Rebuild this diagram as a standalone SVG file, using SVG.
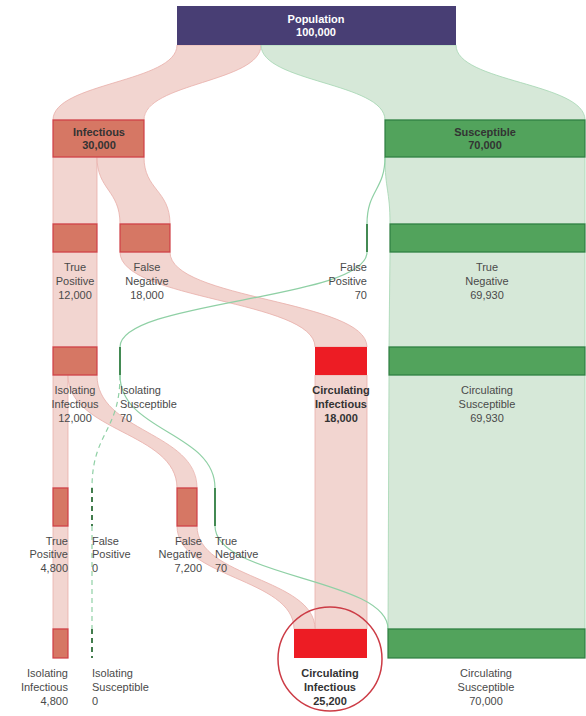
<svg xmlns="http://www.w3.org/2000/svg" width="586" height="716" viewBox="0 0 586 716">
<style>
.fr{fill:#f2d5d0;stroke:#e8aeaa;stroke-width:0.8}
.fg{fill:#d6e8d8;stroke:#a3d6b1;stroke-width:0.8}
.lg{fill:none;stroke:#8fd0a5;stroke-width:1.2}
.lgd{fill:none;stroke:#8fd0a5;stroke-width:1.2;stroke-dasharray:5 4}
.nr{fill:#d67764;stroke:#cf3e45;stroke-width:1.2}
.nb{fill:#ed1c24}
.ng{fill:#52a35c;stroke:#2e7d40;stroke-width:1.2}
.nl{stroke:#2e7d40;stroke-width:1.8;fill:none}
.nld{stroke:#2e6e3a;stroke-width:1.8;fill:none;stroke-dasharray:5 4}
text{font-family:"Liberation Sans",Arial,sans-serif;font-size:11px;fill:#4a4a4a}
.b{font-weight:bold;fill:#333}
.w{font-weight:bold;fill:#fff}
.c{text-anchor:middle}
.e{text-anchor:end}
</style>
<g id="connectors">
<path class="fr" d="M177,45 C177,82.5 53,82.5 53,120 L144,120 C144,82.5 261,82.5 261,45 Z"/>
<path class="fg" d="M261,45 C261,82.5 385,82.5 385,120 L585,120 C585,82.5 456,82.5 456,45 Z"/>
<path class="fr" d="M53,157 L53,224 L97,224 L97,157 Z"/>
<path class="fr" d="M97,157 C97,190 120,190 120,224 L170,224 C170,190 144,190 144,157 Z"/>
<path class="fg" d="M385,157 C385,190 390,190 390,224 L585,224 L585,157 Z"/>
<path class="lg" d="M385,157 C385,190 367,190 367,224"/>
<path class="fr" d="M53,252 L53,347 L97,347 L97,252 Z"/>
<path class="fr" d="M120,252 C120,300 315,300 315,347 L367,347 C367,300 170,300 170,252 Z"/>
<path class="lg" d="M367,252 C367,300 120,300 120,347"/>
<path class="fg" d="M390,252 L389,347 L585,347 L585,252 Z"/>
<path class="fr" d="M53,375 L53,488 L68,488 L68,375 Z"/>
<path class="fr" d="M68,375 C68,432 177,432 177,488 L197,488 C197,432 97,432 97,375 Z"/>
<path class="lgd" d="M120,375 C120,432 92,432 92,488"/>
<path class="lg" d="M120,375 C120,432 215,432 215,488"/>
<path class="fr" d="M315,375 L315,629 L367,629 L367,375 Z"/>
<path class="fg" d="M389,375 L388,629 L585,629 L585,375 Z"/>
<path class="fr" d="M53,526 L53,629 L68,629 L68,526 Z"/>
<path class="lgd" d="M92,526 L92,629"/>
<path class="fr" d="M177,526 C177,578 294,578 294,629 L315,629 C315,578 197,578 197,526 Z"/>
<path class="lg" d="M215,526 C215,578 388,578 388,629"/>
</g>
<g id="population"><rect x="177" y="6" width="279" height="39" fill="#483e74"/><text class="w c" x="316" y="23">Population</text><text class="w c" x="316" y="36">100,000</text></g>
<g id="infectious"><rect class="nr" x="53" y="120" width="91" height="37"/><text class="b c" x="99" y="136">Infectious</text><text class="b c" x="99" y="149">30,000</text></g>
<g id="susceptible"><rect class="ng" x="385" y="120" width="200" height="37"/><text class="b c" x="485" y="136">Susceptible</text><text class="b c" x="485" y="149">70,000</text></g>
<g id="tp1"><rect class="nr" x="53" y="224" width="44" height="28"/><text class="c" x="75" y="271">True</text><text class="c" x="75" y="285">Positive</text><text class="c" x="75" y="299">12,000</text></g>
<g id="fn1"><rect class="nr" x="120" y="224" width="50" height="28"/><text class="c" x="147" y="271">False</text><text class="c" x="147" y="285">Negative</text><text class="c" x="147" y="299">18,000</text></g>
<g id="fp1"><line class="nl" x1="367" y1="224" x2="367" y2="252"/><text class="e" x="367" y="271">False</text><text class="e" x="367" y="285">Positive</text><text class="e" x="367" y="299">70</text></g>
<g id="tn1"><rect class="ng" x="390" y="224" width="195" height="28"/><text class="c" x="487" y="271">True</text><text class="c" x="487" y="285">Negative</text><text class="c" x="487" y="299">69,930</text></g>
<g id="isoinf1"><rect class="nr" x="53" y="347" width="44" height="28"/><text class="c" x="75" y="394">Isolating</text><text class="c" x="75" y="408">Infectious</text><text class="c" x="75" y="422">12,000</text></g>
<g id="isosus1"><line class="nl" x1="120" y1="347" x2="120" y2="375"/><text x="120" y="394">Isolating</text><text x="120" y="408">Susceptible</text><text x="120" y="422">70</text></g>
<g id="circinf1"><rect class="nb" x="315" y="347" width="52" height="28"/><text class="b c" x="341" y="394">Circulating</text><text class="b c" x="341" y="408">Infectious</text><text class="b c" x="341" y="422">18,000</text></g>
<g id="circsus1"><rect class="ng" x="389" y="347" width="196" height="28"/><text class="c" x="487" y="394">Circulating</text><text class="c" x="487" y="408">Susceptible</text><text class="c" x="487" y="422">69,930</text></g>
<g id="tp2"><rect class="nr" x="53" y="488" width="15" height="38"/><text class="e" x="68" y="545">True</text><text class="e" x="68" y="558">Positive</text><text class="e" x="68" y="572">4,800</text></g>
<g id="fp2"><line class="nld" x1="92" y1="488" x2="92" y2="526"/><text x="92" y="545">False</text><text x="92" y="558">Positive</text><text x="92" y="572">0</text></g>
<g id="fn2"><rect class="nr" x="177" y="488" width="20" height="38"/><text class="e" x="202" y="545">False</text><text class="e" x="202" y="558">Negative</text><text class="e" x="202" y="572">7,200</text></g>
<g id="tn2"><line class="nl" x1="215" y1="488" x2="215" y2="526"/><text x="215" y="545">True</text><text x="215" y="558">Negative</text><text x="215" y="572">70</text></g>
<g id="isoinf2"><rect class="nr" x="53" y="629" width="15" height="29"/><text class="e" x="68" y="677">Isolating</text><text class="e" x="68" y="691">Infectious</text><text class="e" x="68" y="705">4,800</text></g>
<g id="isosus2"><line class="nld" x1="92" y1="629" x2="92" y2="658"/><text x="92" y="677">Isolating</text><text x="92" y="691">Susceptible</text><text x="92" y="705">0</text></g>
<g id="circinf2"><rect class="nb" x="294" y="629" width="73" height="29"/><text class="b c" x="330" y="677">Circulating</text><text class="b c" x="330" y="691">Infectious</text><text class="b c" x="330" y="705">25,200</text><circle cx="330" cy="659" r="52" fill="none" stroke="#cc3b45" stroke-width="1.5"/></g>
<g id="circsus2"><rect class="ng" x="388" y="629" width="197" height="29"/><text class="c" x="486" y="677">Circulating</text><text class="c" x="486" y="691">Susceptible</text><text class="c" x="486" y="705">70,000</text></g>
</svg>
